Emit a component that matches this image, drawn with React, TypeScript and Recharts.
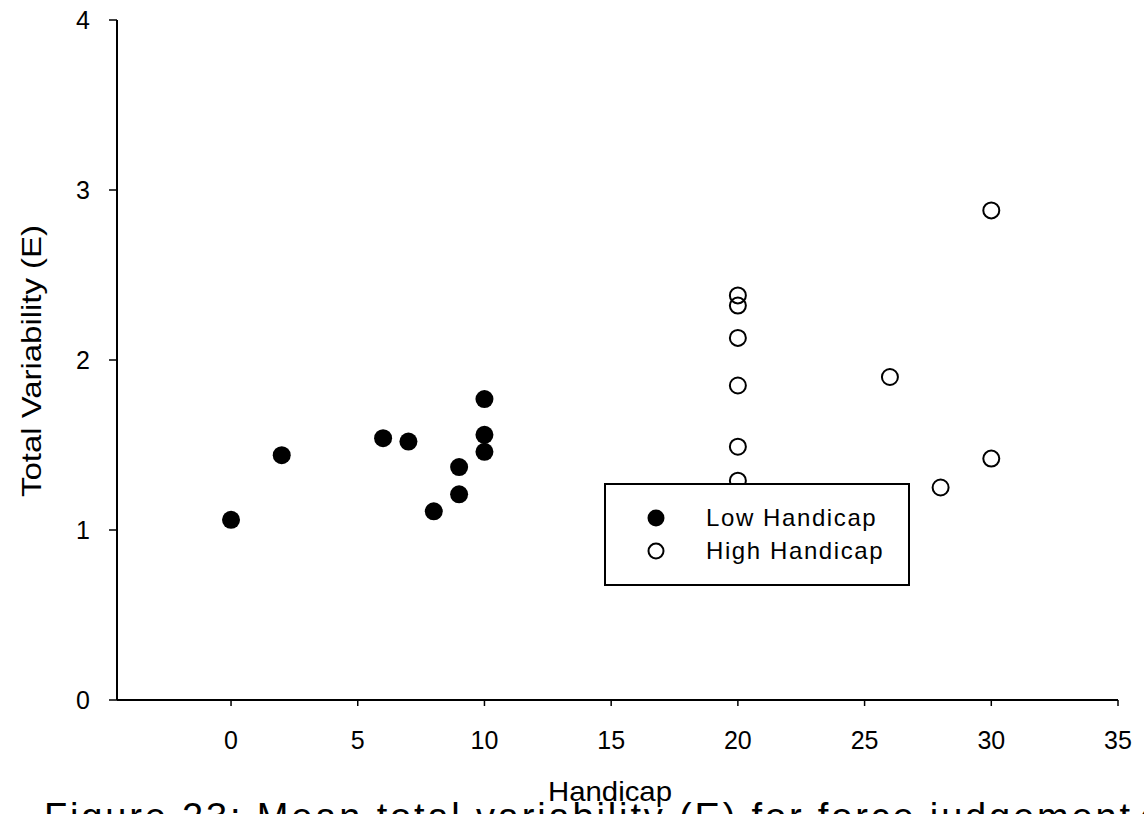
import { ScatterChart, Scatter, XAxis, YAxis, Legend } from "recharts";

// Low handicap golfers (filled markers)
const lowHandicap = [0, 2, 6, 7, 8, 9, 9, 10, 10, 10];
const lowVariability = [1.06, 1.44, 1.54, 1.52, 1.11, 1.21, 1.37, 1.46, 1.56, 1.77];

// High handicap golfers (open markers)
const highHandicap = [20, 20, 20, 20, 20, 20, 26, 28, 30, 30];
const highVariability = [2.38, 2.32, 2.13, 1.85, 1.49, 1.29, 1.9, 1.25, 2.88, 1.42];

const xTicks = [0, 5, 10, 15, 20, 25, 30, 35];
const yTicks = [0, 1, 2, 3, 4];

const seriesNames = ["Low Handicap", "High Handicap"];

const FONT = "'Liberation Sans', Arial, sans-serif";

const lowData = lowHandicap.map((x, i) => ({ x, y: lowVariability[i] }));
const highData = highHandicap.map((x, i) => ({ x, y: highVariability[i] }));

const FilledDot = (props: any) => (
  <circle cx={props.cx} cy={props.cy} r={9} fill="#000" stroke="none" />
);

const OpenDot = (props: any) => (
  <circle cx={props.cx} cy={props.cy} r={8} fill="none" stroke="#000" strokeWidth={2} />
);

function LegendBox() {
  return (
    <div
      style={{
        width: 306,
        height: 103,
        boxSizing: "border-box",
        border: "2px solid #000",
        background: "#fff",
        fontFamily: FONT,
        fontSize: 24,
        letterSpacing: 1.6,
        position: "relative",
      }}
    >
      {seriesNames.map((name, i) => (
        <div
          key={name}
          style={{ position: "absolute", left: 0, top: 19 + i * 33, height: 28, display: "flex", alignItems: "center" }}
        >
          <svg width={100} height={28}>
            {i === 0 ? (
              <circle cx={50} cy={14} r={8.5} fill="#000" />
            ) : (
              <circle cx={50} cy={14} r={7.5} fill="none" stroke="#000" strokeWidth={2} />
            )}
          </svg>
          <span style={{ color: "#000" }}>{name}</span>
        </div>
      ))}
    </div>
  );
}

export default function App() {
  return (
    <div
      style={{
        position: "absolute",
        left: 0,
        top: 0,
        width: 1144,
        height: 814,
        overflow: "hidden",
        background: "#fff",
      }}
    >
      <ScatterChart width={1144} height={814} margin={{ top: 20, right: 26, bottom: 0, left: 0 }}>
        <XAxis
          type="number"
          dataKey="x"
          domain={[-4.5, 35]}
          ticks={xTicks}
          allowDataOverflow
          height={114}
          tickSize={6}
          tickMargin={25}
          axisLine={{ stroke: "#000", strokeWidth: 2 }}
          tickLine={{ stroke: "#000", strokeWidth: 1.5 }}
          tick={{ fill: "#000", fontSize: 25, fontFamily: FONT }}
          label={() => (
            <text
              x={610}
              y={801}
              textAnchor="middle"
              fontSize={28}
              fontFamily={FONT}
              fill="#000"
              textLength={124}
              lengthAdjust="spacingAndGlyphs"
            >
              Handicap
            </text>
          )}
        />
        <YAxis
          type="number"
          dataKey="y"
          domain={[0, 4]}
          ticks={yTicks}
          width={117}
          tickSize={8}
          tickMargin={19}
          axisLine={{ stroke: "#000", strokeWidth: 2 }}
          tickLine={{ stroke: "#000", strokeWidth: 1.5 }}
          tick={{ fill: "#000", fontSize: 25, fontFamily: FONT }}
          label={() => (
            <text
              x={31}
              y={361}
              transform="rotate(-90 31 361)"
              textAnchor="middle"
              dominantBaseline="central"
              fontSize={28}
              fontFamily={FONT}
              fill="#000"
              textLength={272}
              lengthAdjust="spacingAndGlyphs"
            >
              Total Variability (E)
            </text>
          )}
        />
        <Scatter name={seriesNames[0]} data={lowData} shape={FilledDot} fill="#000" isAnimationActive={false} />
        <Scatter name={seriesNames[1]} data={highData} shape={OpenDot} fill="#fff" isAnimationActive={false} />
        <Legend
          layout="vertical"
          align="center"
          verticalAlign="middle"
          content={() => <LegendBox />}
          wrapperStyle={{ position: "absolute", left: 604, top: 483, width: 306, height: 103 }}
        />
      </ScatterChart>
      {/* figure caption, cut by the bottom edge as in the scan */}
      <svg style={{ position: "absolute", left: 0, top: 0 }} width={1144} height={814} pointerEvents="none">
        <text
          x={44}
          y={830}
          fontSize={38}
          fontFamily={FONT}
          fill="#000"
          textLength={1086}
          lengthAdjust="spacing"
        >
          Figure 23: Mean total variability (E) for force judgement
        </text>
        <text x={1140} y={830} fontSize={38} fontFamily={FONT} fill="#000">
          conditions
        </text>
      </svg>
    </div>
  );
}
